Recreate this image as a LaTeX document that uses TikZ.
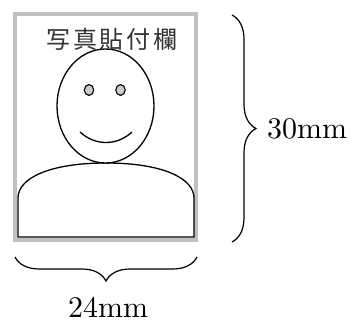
\documentclass[tikz,border=0pt]{standalone}
\usepackage{fontspec}
\newfontfamily\jpfont[LetterSpace=12]{Noto Sans CJK JP}
\newfontfamily\dimfont{lmroman10-regular.otf}
\usetikzlibrary{decorations.pathreplacing}

\tikzset{
  photo/.style={draw=black!25,line width=3.5pt},
  outline/.style={draw=black,line width=1.3pt},
  eye/.style={draw=black,fill=black!20,line width=1.1pt},
  brc/.style={decorate,decoration={brace,amplitude=24pt},line width=1.2pt},
  size/.style={font=\dimfont\fontsize{30}{36}\selectfont,inner sep=0pt}
}

\begin{document}
\begin{tikzpicture}[x=1pt,y=-1pt]
\useasboundingbox (0,0) rectangle (354,326);

% photo frame
\coordinate (tl) at (15,14);
\coordinate (br) at (196,240);
\draw[photo] (tl) rectangle (br);

% shoulders
\draw[outline] (18,237) -- (18,198)
  .. controls (18,178) and (50,163) .. (106,163)
  .. controls (162,163) and (194,178) .. (194,198)
  -- (194,237) -- cycle;

% head
\draw[outline,fill=white] (105.5,106) ellipse [x radius=48.5,y radius=57];
\draw[eye] (89,90) ellipse [x radius=4.7,y radius=5.4];
\draw[eye] (120.5,90) ellipse [x radius=4.7,y radius=5.4];
\draw[outline] (80,132) .. controls (95,146) and (117,146) .. (132,132);

% caption
\node[text=black!80,font=\jpfont\fontsize{24}{28}\selectfont,anchor=base]
  (cap) at (112,49) {写真貼付欄};

% dimensions
\coordinate (h1) at (232,15);
\coordinate (h2) at (232,242);
\draw[brc] (h1) -- (h2);
\node[size,anchor=base west] (hdim) at (267,139) {30mm};

\coordinate (w1) at (197,257);
\coordinate (w2) at (15,257);
\draw[brc] (w1) -- (w2);
\node[size,anchor=base] (wdim) at (108,318) {24mm};
\end{tikzpicture}
\end{document}
